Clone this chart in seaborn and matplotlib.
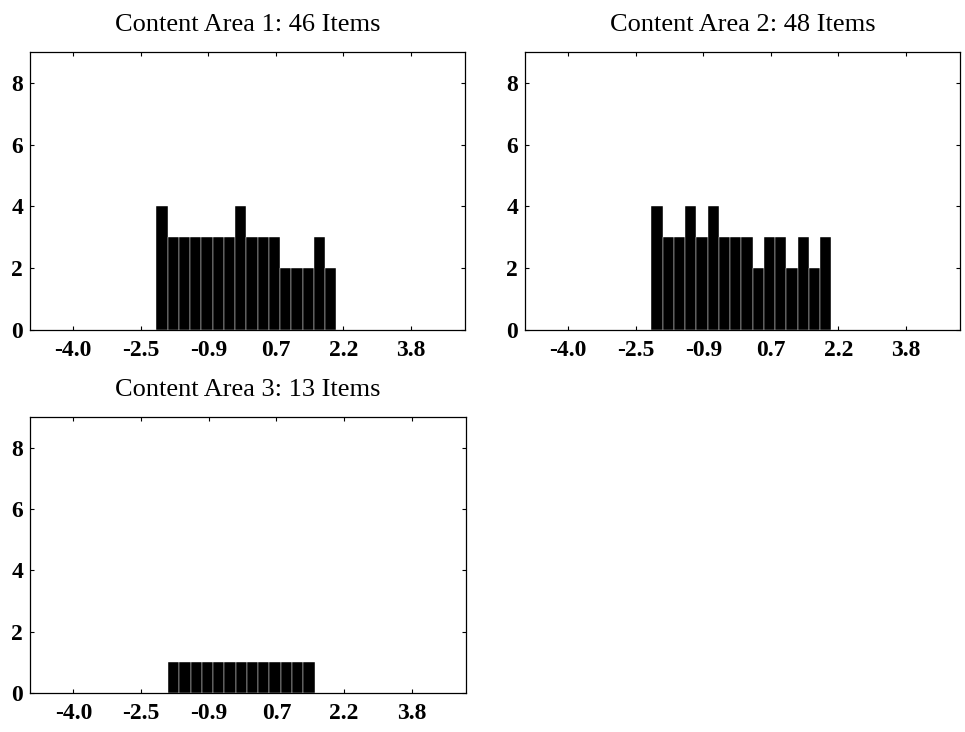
import numpy as np
import pandas as pd
import matplotlib
matplotlib.use("Agg")
import matplotlib.pyplot as plt
import seaborn as sns

# Item difficulty bins (bin centres shared by all content areas)
bin_centers = [-1.95, -1.69, -1.43, -1.17, -0.91, -0.65, -0.39, -0.13,
               0.13, 0.39, 0.65, 0.91, 1.17, 1.43, 1.69, 1.95]

# Number of items falling in each bin
area1_counts = [4, 3, 3, 3, 3, 3, 3, 4, 3, 3, 3, 2, 2, 2, 3, 2]
area2_counts = [4, 3, 3, 4, 3, 4, 3, 3, 3, 2, 3, 3, 2, 3, 2, 3]
area3_counts = [0, 1, 1, 1, 1, 1, 1, 1, 1, 1, 1, 1, 1, 1, 0, 0]

titles = ["Content Area 1: 46 Items",
          "Content Area 2: 48 Items",
          "Content Area 3: 13 Items"]

x_tick_labels = ["-4.0", "-2.5", "-0.9", "0.7", "2.2", "3.8"]
y_ticks = [0, 2, 4, 6, 8]

sns.set_theme(style="ticks")
plt.rcParams["font.family"] = ["Liberation Serif", "DejaVu Serif"]

W, H = 965, 732
fig = plt.figure(figsize=(W / 100, H / 100), dpi=100)
fig.patch.set_facecolor("white")


def rect(left, top, right, bottom):
    return [left / W, 1 - bottom / H, (right - left) / W, (bottom - top) / H]


boxes = [rect(30, 52, 465, 330), rect(525, 52, 960, 330), rect(30, 417, 466, 693)]
series = [area1_counts, area2_counts, area3_counts]

step = bin_centers[1] - bin_centers[0]
edges = [c - step / 2 for c in bin_centers] + [bin_centers[-1] + step / 2]
x_tick_pos = np.linspace(-4.0, 3.8, len(x_tick_labels))

for box, counts, title in zip(boxes, series, titles):
    ax = fig.add_axes(box)
    df = pd.DataFrame({"difficulty": bin_centers, "items": counts})
    sns.histplot(data=df, x="difficulty", weights="items", bins=edges,
                 color="black", alpha=1.0, edgecolor="white", linewidth=0.3,
                 ax=ax)
    ax.set_xlim(-5.0, 5.05)
    ax.set_ylim(0, 9)
    ax.set_xticks(x_tick_pos)
    ax.set_xticklabels(x_tick_labels)
    ax.set_yticks(y_ticks)
    ax.set_xlabel("")
    ax.set_ylabel("")
    ax.set_title(title, fontsize=19, pad=15, color="black")
    ax.tick_params(axis="both", direction="in", length=3, width=0.8,
                   colors="black", labelsize=17, top=True, right=True)
    ax.tick_params(axis="x", pad=7)
    ax.tick_params(axis="y", pad=5)
    for lab in ax.get_xticklabels() + ax.get_yticklabels():
        lab.set_fontweight("bold")
    for s in ax.spines.values():
        s.set_visible(True)
        s.set_color("black")
        s.set_linewidth(0.9)
    ax.set_facecolor("white")

fig.savefig("out.png", dpi=100, facecolor="white")
